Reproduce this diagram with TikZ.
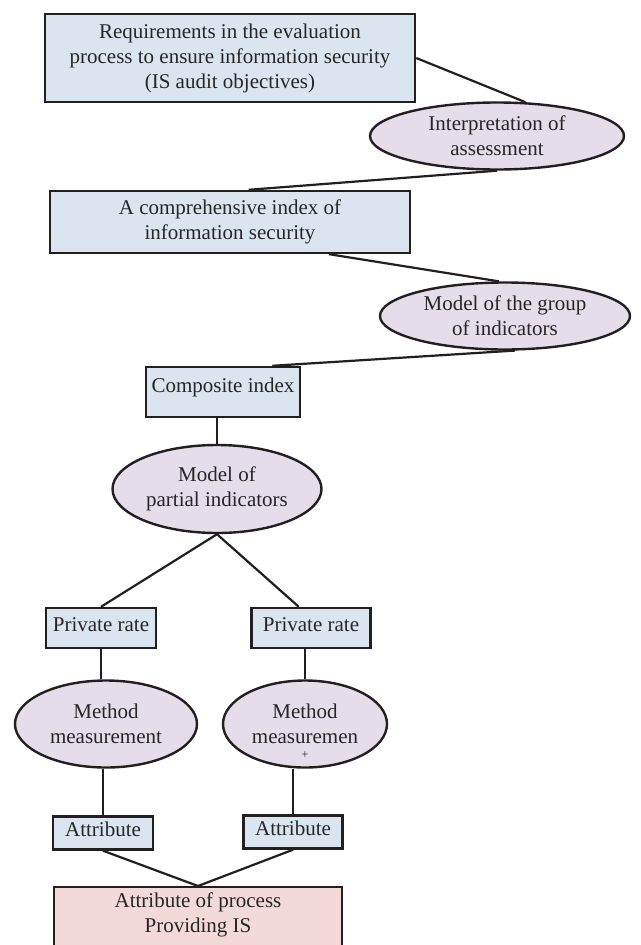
\documentclass[tikz,border=0pt]{standalone}
\usepackage{fontspec}
\setmainfont{Liberation Serif}
\usetikzlibrary{shapes.geometric}

\definecolor{boxblue}{RGB}{219,229,240}
\definecolor{ovalviolet}{RGB}{229,221,234}
\definecolor{basepink}{RGB}{243,217,217}
\definecolor{inkgray}{RGB}{35,31,32}

\tikzstyle{goalbox} = [
    rectangle,
    line width=2.4pt,
    draw=inkgray,
    fill=boxblue,
    align=center
]
\tikzstyle{tagbox} = [
    goalbox,
    text height=14pt,
    text depth=8pt
]
\tikzstyle{modeloval} = [
    ellipse,
    inner sep=0pt,
    line width=2.4pt,
    draw=inkgray,
    fill=ovalviolet,
    align=center
]
\tikzstyle{basebox} = [
    rectangle,
    inner ysep=6pt,
    line width=2.4pt,
    draw=inkgray,
    fill=basepink
]
\tikzstyle{link} = [line width=2.2pt, draw=inkgray]

\begin{document}
\begin{tikzpicture}[x=1pt, y=-1pt, text=black!85,
    font=\fontsize{21}{25}\selectfont]

\useasboundingbox (0,0) rectangle (640,945);

\node (req) [goalbox, minimum width=370pt, minimum height=88pt] at (230,58)
{Requirements in the evaluation\\process to ensure information security\\(IS audit objectives)};

\node (interp) [modeloval, minimum width=254pt, minimum height=67pt] at (497,136)
{Interpretation of\\assessment};

\node (compidx) [goalbox, minimum width=360pt, minimum height=62pt] at (230,222)
{A comprehensive index of\\information security};

\node (groupmodel) [modeloval, minimum width=250pt, minimum height=67pt] at (505,316)
{Model of the group\\of indicators};

\node (composite) [goalbox, text height=15pt, text depth=14pt,
    minimum width=154pt, minimum height=50pt] at (223,392)
{Composite index};

\node (partial) [modeloval, minimum width=209pt, minimum height=88pt] at (217,489)
{Model of\\partial indicators};

\node (rateL) [tagbox, minimum width=110pt, minimum height=40pt] at (101,628)
{Private rate};
\node (rateR) [tagbox, minimum width=119pt, minimum height=40pt] at (311,628)
{Private rate};

\node (methL) [modeloval, minimum width=182pt, minimum height=87pt] at (106,724)
{Method\\measurement};
\node (methR) [modeloval, minimum width=164pt, minimum height=87pt] at (305,724)
{Method\\measuremen};
\node (methRtail) [inner sep=0pt] at (305,755) {\fontsize{12}{12}\selectfont +};

\node (attrL) [tagbox, minimum width=100pt, minimum height=33pt] at (103,833)
{Attribute};
\node (attrR) [tagbox, minimum width=99pt, minimum height=33pt] at (293,832)
{Attribute};

\node (proc) [basebox, anchor=north, minimum width=288pt] at (198,886)
{\parbox[c][90pt][t]{260pt}{\centering Attribute of process\\Providing IS}};

% upper chain
\draw [link] (req.east) -- (interp.50);
\draw [link] (interp.south) -- (compidx.60);
\draw [link] (compidx.-18) -- (groupmodel.100);
\draw [link] (groupmodel.-74) -- (composite.28);
\draw [link] (partial.north |- composite.south) -- (partial.north);

% two branches
\draw [link] (partial.south) -- (rateL.north);
\draw [link] (partial.south) -- (rateR.120);
\draw [link] (rateL.south) -- (rateL.south |- methL.north);
\draw [link] (methR.north |- rateR.south) -- (methR.north);
\draw [link] (attrL.north |- methL.south) -- (attrL.north);
\draw [link] (attrR.north |- methR.south) -- (attrR.north);
\draw [link] (attrL.south) -- (proc.north);
\draw [link] (attrR.south) -- (proc.north);

\end{tikzpicture}
\end{document}
